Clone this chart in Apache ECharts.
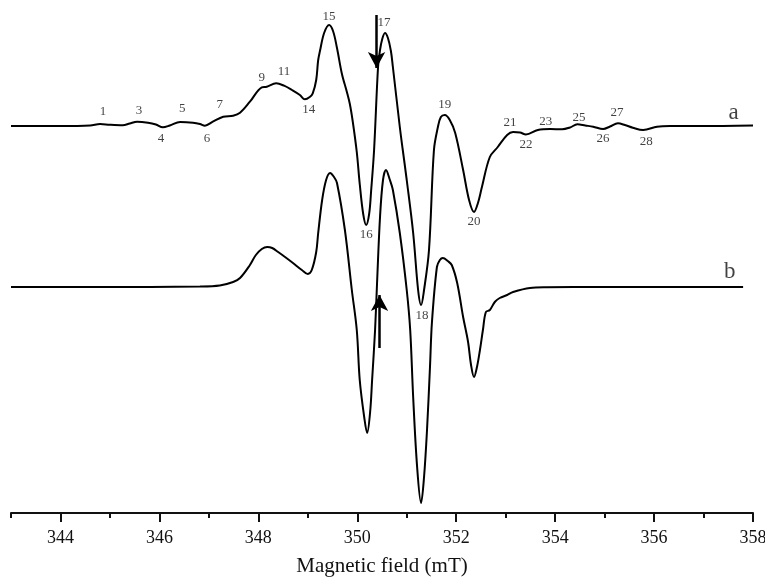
<!DOCTYPE html>
<html>
<head>
<meta charset="utf-8">
<script src="https://cdn.jsdelivr.net/npm/echarts@6/dist/echarts.min.js"></script>
<style>
  html, body { margin: 0; padding: 0; background: #fff; }
  #chart { width: 765px; height: 579px; }
</style>
</head>
<body>
<div id="chart"></div>
<script>
// field (mT), intensity (a.u.)
const fieldA = [343.00, 343.99, 344.60, 344.80, 345.00, 345.26, 345.40, 345.55, 345.77, 345.93, 346.07, 346.21, 346.42, 346.68, 346.82, 346.92, 347.08, 347.29, 347.49, 347.63, 347.83, 348.07, 348.17, 348.36, 348.52, 348.68, 348.84, 348.94, 349.04, 349.10, 349.17, 349.21, 349.25, 349.33, 349.43, 349.51, 349.59, 349.69, 349.79, 349.85, 349.91, 349.99, 350.05, 350.12, 350.18, 350.24, 350.28, 350.34, 350.42, 350.46, 350.50, 350.56, 350.62, 350.68, 350.72, 350.86, 350.92, 351.00, 351.13, 351.23, 351.29, 351.35, 351.45, 351.55, 351.63, 351.69, 351.77, 351.87, 351.98, 352.14, 352.26, 352.36, 352.44, 352.52, 352.68, 352.84, 353.03, 353.15, 353.29, 353.41, 353.65, 353.90, 354.14, 354.30, 354.45, 354.61, 354.77, 354.97, 355.11, 355.27, 355.41, 355.57, 355.78, 356.06, 356.32, 356.93, 358.00]
const intensityA = [0, 0, 0.5, 2, 1.2, 0.7, 2.5, 4.3, 3.3, 1.5, -1.3, 0.5, 4, 3.3, 2, 0.3, 4.3, 9.3, 10.3, 13.3, 24.3, 38.7, 39.3, 42.7, 40.3, 36, 31, 26.7, 29, 32.7, 46, 66, 76, 93, 101, 95, 78, 52, 34, 22, 4, -26, -58, -88, -99, -88, -65, -24, 59, 76, 86, 93, 88, 75, 59, -1, -24, -54, -107, -164, -179, -164, -124, -24, -1, 9, 11, 6, -7, -44, -74, -86, -77, -61, -31, -21, -9, -6, -6.5, -8.5, -4, -3, -3.3, -1.5, 1.7, 0.5, -0.7, -3, -0.5, 2.7, 1, -1.7, -4, -0.7, 0, 0, 0.5]

const fieldB = [343.00, 344.80, 346.82, 347.22, 347.49, 347.63, 347.83, 347.95, 348.07, 348.18, 348.28, 348.40, 348.54, 348.70, 348.88, 349.00, 349.08, 349.17, 349.21, 349.29, 349.37, 349.45, 349.53, 349.59, 349.75, 349.89, 349.99, 350.05, 350.14, 350.20, 350.26, 350.30, 350.36, 350.40, 350.46, 350.52, 350.58, 350.66, 350.72, 350.86, 351.00, 351.07, 351.13, 351.21, 351.29, 351.35, 351.41, 351.47, 351.51, 351.61, 351.67, 351.73, 351.83, 351.91, 352.02, 352.14, 352.24, 352.30, 352.36, 352.42, 352.48, 352.54, 352.60, 352.68, 352.78, 352.88, 353.03, 353.15, 353.49, 353.83, 354.91, 357.80]
const intensityB = [0, 0, 0.5, 1.5, 5, 9, 22, 32, 38, 40, 39, 35, 30, 24, 17, 13, 17, 35, 54, 87, 107, 114, 110, 104, 57, -3, -43, -93, -130, -146, -125, -93, -43, 4, 70, 107, 117, 107, 97, 54, -3, -43, -110, -180, -216, -190, -143, -80, -35, 20, 27, 29, 26, 22, 4, -30, -55, -78, -90, -80, -63, -43, -25, -23, -15, -11, -8, -5, -1, -0.3, 0, 0]

// vertical offsets of the two traces
const offsetA = 387
const offsetB = 226

// peak labels: [field, level, text]
const peakLabels = [
  [344.86, 401, '1'], [345.59, 402, '3'], [346.03, 374, '4'], [346.46, 404, '5'],
  [346.96, 374, '6'], [347.22, 408, '7'], [348.07, 435, '9'], [348.52, 441, '11'],
  [349.02, 403, '14'], [349.43, 496, '15'], [350.18, 278, '16'], [350.54, 490, '17'],
  [351.31, 197, '18'], [351.77, 408, '19'], [352.36, 291, '20'], [353.09, 390, '21'],
  [353.41, 368, '22'], [353.81, 391, '23'], [354.48, 395, '25'], [354.97, 374, '26'],
  [355.25, 400, '27'], [355.84, 371, '28']
]
const traceLabels = [[357.61, 400, 'a'], [357.53, 241, 'b']]

// arrows: [field, from, to]
const arrows = [[350.39, 498, 445], [350.45, 165, 218]]

const majorTicks = [344, 346, 348, 350, 352, 354, 356, 358]
const minorTicks = [343, 345, 347, 349, 351, 353, 355, 357]

const font = 'Liberation Serif'
const chart = echarts.init(document.getElementById('chart'))

const axisBase = {
  type: 'value',
  min: 343,
  max: 358,
  position: 'bottom',
  splitLine: { show: false }
}

chart.setOption({
  animation: false,
  backgroundColor: '#fff',
  grid: { left: 11, right: 12, top: 0, bottom: 66, containLabel: false, outerBoundsMode: 'none' },
  xAxis: [
    {
      ...axisBase,
      name: 'Magnetic field (mT)',
      nameLocation: 'middle',
      nameGap: 43,
      nameTextStyle: { fontFamily: font, fontSize: 21, color: '#111' },
      axisLine: { lineStyle: { color: '#111', width: 2 } },
      axisTick: { show: true, length: 9, lineStyle: { color: '#111', width: 2 }, customValues: majorTicks },
      axisLabel: { fontFamily: font, fontSize: 18, color: '#111', margin: 16, customValues: majorTicks }
    },
    {
      ...axisBase,
      axisLine: { show: false },
      axisTick: { show: true, length: 5, lineStyle: { color: '#111', width: 2 }, customValues: minorTicks },
      axisLabel: { show: false }
    }
  ],
  yAxis: { type: 'value', min: 0, max: 513, show: false },
  series: [
    {
      type: 'line',
      data: fieldA.map((f, i) => [f, intensityA[i] + offsetA]),
      showSymbol: false,
      smooth: 0.35,
      lineStyle: { color: '#000', width: 2 }
    },
    {
      type: 'line',
      data: fieldB.map((f, i) => [f, intensityB[i] + offsetB]),
      showSymbol: false,
      smooth: 0.35,
      lineStyle: { color: '#000', width: 2 }
    },
    {
      type: 'scatter',
      data: peakLabels,
      symbolSize: 0,
      silent: true,
      label: {
        show: true, position: 'inside', formatter: p => p.data[2],
        fontFamily: font, fontSize: 13, color: '#111'
      }
    },
    {
      type: 'scatter',
      data: traceLabels,
      symbolSize: 0,
      silent: true,
      label: {
        show: true, position: 'inside', formatter: p => p.data[2],
        fontFamily: font, fontSize: 23, color: '#111'
      }
    },
    {
      type: 'line',
      data: [],
      markLine: {
        silent: true,
        symbol: ['none', 'arrow'],
        symbolSize: [13, 16],
        label: { show: false },
        lineStyle: { color: '#000', width: 2.5, type: 'solid' },
        data: arrows.map(a => [{ coord: [a[0], a[1]] }, { coord: [a[0], a[2]] }])
      }
    }
  ]
})
</script>
</body>
</html>
